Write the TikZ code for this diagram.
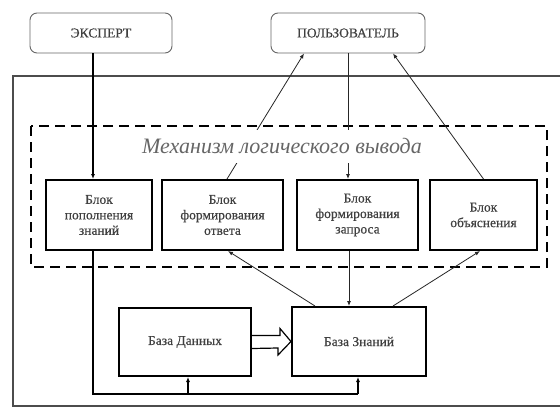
\documentclass[tikz,border=0pt]{standalone}
\usepackage{fontspec}
\setmainfont{Liberation Serif}
\newfontfamily\heavyserif[FakeBold=0.5]{Liberation Serif}
\usetikzlibrary{arrows.meta}
\definecolor{txt}{gray}{0.25}
\tikzset{
  rbox/.style={draw=black!60, line width=0.9pt, rounded corners=7pt, text=txt,
    font=\heavyserif\fontsize{13.5}{15.5}\selectfont, inner sep=0pt},
  blk/.style={draw=black, line width=2pt, text=txt, align=center,
    font=\heavyserif\fontsize{13.5}{15.5}\selectfont, inner sep=0pt},
  conn/.style={draw=black!85, line width=0.8pt},
  thk/.style={draw=black, line width=1.6pt},
  tip/.style={-{Latex[length=5pt,width=4pt]}},
}
\begin{document}
\begin{tikzpicture}[x=1pt,y=-1pt]
\useasboundingbox (0,0) rectangle (560,408);
\clip (0,0) rectangle (560,408);
\fill[white] (0,0) rectangle (560,408);
% outer frame
\draw[draw=black!70, line width=1.4pt] (13,76) rectangle (580,406);
% dashed area
\draw[line width=1.8pt, dash pattern=on 10pt off 6pt] (31,126) rectangle (547,267);
% top boxes
\node[rbox, minimum width=142pt, minimum height=40pt] (exp) at (101,33) {ЭКСПЕРТ};
\node[rbox, minimum width=154pt, minimum height=40pt] (usr) at (348,33) {ПОЛЬЗОВАТЕЛЬ};
% blocks
\node[blk, minimum width=106pt, minimum height=70pt] (b1) at (99,215) {Блок\\пополнения\\знаний};
\node[blk, minimum width=121pt, minimum height=70pt] (b2) at (222.5,215) {Блок\\формирования\\ответа};
\node[blk, minimum width=121pt, minimum height=70pt] (b3) at (357.5,215) {Блок\\формирования\\запроса};
\node[blk, minimum width=107pt, minimum height=70pt] (b4) at (483.5,215) {Блок\\объяснения};
% bases
\node[blk, minimum width=132pt, minimum height=68pt] (bd) at (185,342) {База Данных};
\node[blk, minimum width=134pt, minimum height=69pt] (bz) at (359,341.5) {База Знаний};
% connectors
\draw[thk, tip] ([xshift=-8pt]exp.south) -- ([xshift=-6pt]b1.north);
\draw[conn, tip] ([xshift=4.5pt]b2.north) -- ([xshift=-44pt]usr.south);
\draw[conn, tip] (usr.south) -- ([xshift=-9.5pt]b3.north);
\draw[conn, tip] (b4.north) -- ([xshift=45pt]usr.south);
\draw[conn, tip] ([xshift=-8.5pt]b3.south) -- ([xshift=-10pt]bz.north);
\draw[conn, tip] ([xshift=-44pt]bz.north) -- ([xshift=5.5pt]b2.south);
\draw[conn, tip] ([xshift=34pt]bz.north) -- ([xshift=-3.5pt]b4.south);
\draw[thk] ([xshift=-6pt]b1.south) |- ([xshift=-1pt,yshift=-17pt]bz.south);
\draw[thk, tip] ([xshift=3pt,yshift=-17pt]bd.south) -- ([xshift=3pt]bd.south);
\draw[thk, tip] ([xshift=-1pt,yshift=-17pt]bz.south) -- ([xshift=-1pt]bz.south);
% hollow arrow
\draw[line width=1.2pt, line join=miter] ([yshift=6.5pt]bd.east) -- ++(28,0) -- ++(0,-7)
  -- (bz.west) -- ([xshift=-13pt,yshift=-13.5pt]bz.west) -- ++(0,-7) -- ([yshift=-6.5pt]bd.east);
% title
\node[fill=white, text=black!60, inner xsep=3pt, minimum height=33pt,
  font=\fontsize{22}{24}\selectfont\itshape] (ttl) at (282,146) {Механизм логического вывода};
\end{tikzpicture}
\end{document}
